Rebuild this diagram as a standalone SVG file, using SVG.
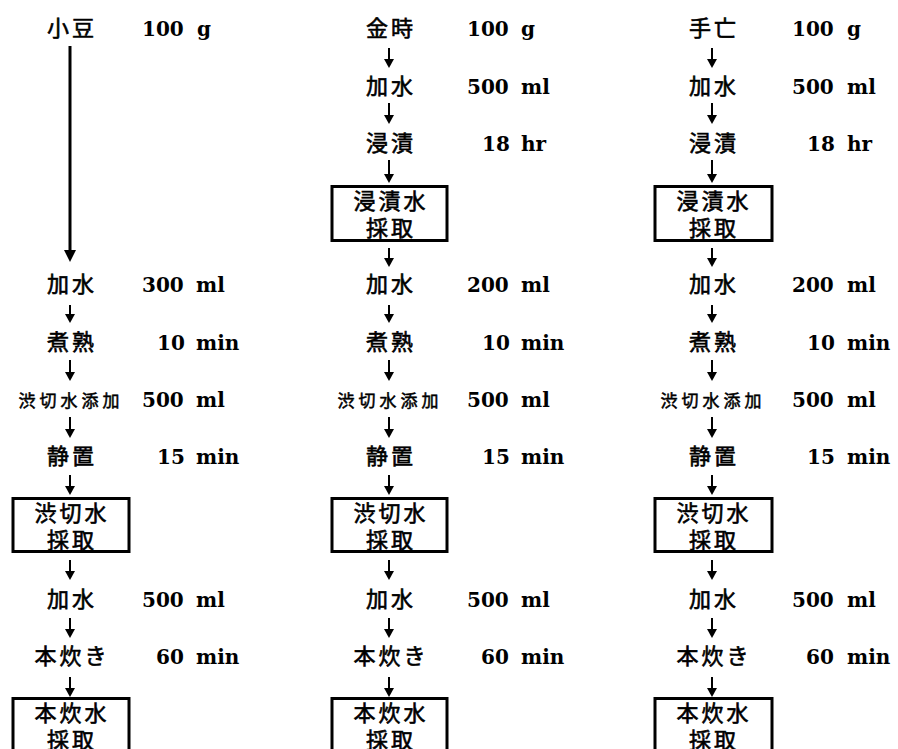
<svg xmlns="http://www.w3.org/2000/svg" width="898" height="749" viewBox="0 0 898 749">
<style>
.jp{font-family:"Noto Sans CJK JP","Noto Sans CJK SC",sans-serif;font-size:22px;font-weight:normal;fill:#000;stroke:#000;stroke-width:0.6px;text-anchor:middle;letter-spacing:3px}
.sm{font-size:17px;letter-spacing:4px;stroke-width:0.5px}
.v{font-family:"DejaVu Serif","Liberation Serif",serif;font-size:20px;font-weight:bold;fill:#000}
.box{fill:#fff;stroke:#000;stroke-width:3}
.c{stroke:#000;stroke-width:2;fill:none;marker-end:url(#ah)}
.long{stroke:#000;stroke-width:3;fill:none;marker-end:url(#ahl)}
</style>
<defs>
<marker id="ah" viewBox="0 0 9 10" refX="4" refY="5" markerWidth="9" markerHeight="10" markerUnits="userSpaceOnUse" orient="auto"><path d="M0,0 L9,5 L0,10 z" fill="#000"/></marker>
<marker id="ahl" viewBox="0 0 12 12" refX="5" refY="6" markerWidth="12" markerHeight="12" markerUnits="userSpaceOnUse" orient="auto"><path d="M0,0 L12,6 L0,12 z" fill="#000"/></marker>
</defs>
<rect width="898" height="749" fill="#fff"/>
<g id="connectors">
<path class="long" d="M70,46 V255"/>
<path class="c" d="M70,305 V318"/><path class="c" d="M70,360 V376"/><path class="c" d="M70,417 V433"/><path class="c" d="M70,475 V490"/><path class="c" d="M70,560 V575"/><path class="c" d="M70,618 V633"/><path class="c" d="M70,677 V692"/>
<path class="c" d="M389,48 V63"/><path class="c" d="M389,103 V119"/><path class="c" d="M389,160 V178"/><path class="c" d="M389,248 V262"/>
<path class="c" d="M389,305 V318"/><path class="c" d="M389,360 V376"/><path class="c" d="M389,417 V433"/><path class="c" d="M389,475 V490"/><path class="c" d="M389,560 V575"/><path class="c" d="M389,618 V633"/><path class="c" d="M389,677 V692"/>
<path class="c" d="M712,48 V63"/><path class="c" d="M712,103 V119"/><path class="c" d="M712,160 V178"/><path class="c" d="M712,248 V262"/>
<path class="c" d="M712,305 V318"/><path class="c" d="M712,360 V376"/><path class="c" d="M712,417 V433"/><path class="c" d="M712,475 V490"/><path class="c" d="M712,560 V575"/><path class="c" d="M712,618 V633"/><path class="c" d="M712,677 V692"/>
</g>
<!-- Column 1 -->
<g id="c1-azuki"><text class="jp" x="72" y="36">小豆</text><text class="v" x="142" y="36">100<tspan x="197">g</tspan></text></g>
<g id="c1-kasui1"><text class="jp" x="72" y="292">加水</text><text class="v" x="142" y="292">300<tspan x="196">ml</tspan></text></g>
<g id="c1-shajuku"><text class="jp" x="72" y="350">煮熟</text><text class="v" x="157" y="350">10<tspan x="196">min</tspan></text></g>
<g id="c1-shibu"><text class="jp sm" x="71" y="407">渋切水添加</text><text class="v" x="142" y="407">500<tspan x="196">ml</tspan></text></g>
<g id="c1-seichi"><text class="jp" x="72" y="464">静置</text><text class="v" x="157" y="464">15<tspan x="196">min</tspan></text></g>
<g id="c1-box1"><rect class="box" x="13" y="498.5" width="116" height="53"/><text class="jp" x="72" y="521">渋切水</text><text class="jp" x="72" y="548">採取</text></g>
<g id="c1-kasui2"><text class="jp" x="72" y="607">加水</text><text class="v" x="142" y="607">500<tspan x="196">ml</tspan></text></g>
<g id="c1-hondaki"><text class="jp" x="72" y="664">本炊き</text><text class="v" x="156" y="664">60<tspan x="196">min</tspan></text></g>
<g id="c1-box2"><rect class="box" x="13" y="698.5" width="116" height="60"/><text class="jp" x="72" y="721">本炊水</text><text class="jp" x="72" y="748">採取</text></g>
<!-- Column 2 -->
<g id="c2-kintoki"><text class="jp" x="391" y="36">金時</text><text class="v" x="467" y="36">100<tspan x="521">g</tspan></text></g>
<g id="c2-kasui0"><text class="jp" x="391" y="94">加水</text><text class="v" x="467" y="94">500<tspan x="521">ml</tspan></text></g>
<g id="c2-shinseki"><text class="jp" x="391" y="151">浸漬</text><text class="v" x="482" y="151">18<tspan x="521">hr</tspan></text></g>
<g id="c2-box0"><rect class="box" x="332" y="186.5" width="115" height="54"/><text class="jp" x="391" y="209">浸漬水</text><text class="jp" x="391" y="236">採取</text></g>
<g id="c2-kasui1"><text class="jp" x="391" y="292">加水</text><text class="v" x="467" y="292">200<tspan x="521">ml</tspan></text></g>
<g id="c2-shajuku"><text class="jp" x="391" y="350">煮熟</text><text class="v" x="482" y="350">10<tspan x="521">min</tspan></text></g>
<g id="c2-shibu"><text class="jp sm" x="390" y="407">渋切水添加</text><text class="v" x="467" y="407">500<tspan x="521">ml</tspan></text></g>
<g id="c2-seichi"><text class="jp" x="391" y="464">静置</text><text class="v" x="482" y="464">15<tspan x="521">min</tspan></text></g>
<g id="c2-box1"><rect class="box" x="332" y="498.5" width="115" height="53"/><text class="jp" x="391" y="521">渋切水</text><text class="jp" x="391" y="548">採取</text></g>
<g id="c2-kasui2"><text class="jp" x="391" y="607">加水</text><text class="v" x="467" y="607">500<tspan x="521">ml</tspan></text></g>
<g id="c2-hondaki"><text class="jp" x="391" y="664">本炊き</text><text class="v" x="481" y="664">60<tspan x="521">min</tspan></text></g>
<g id="c2-box2"><rect class="box" x="332" y="698.5" width="115" height="60"/><text class="jp" x="391" y="721">本炊水</text><text class="jp" x="391" y="748">採取</text></g>
<!-- Column 3 -->
<g id="c3-tebou"><text class="jp" x="714" y="36">手亡</text><text class="v" x="792" y="36">100<tspan x="847">g</tspan></text></g>
<g id="c3-kasui0"><text class="jp" x="714" y="94">加水</text><text class="v" x="792" y="94">500<tspan x="847">ml</tspan></text></g>
<g id="c3-shinseki"><text class="jp" x="714" y="151">浸漬</text><text class="v" x="807" y="151">18<tspan x="847">hr</tspan></text></g>
<g id="c3-box0"><rect class="box" x="655" y="186.5" width="117" height="54"/><text class="jp" x="714" y="209">浸漬水</text><text class="jp" x="714" y="236">採取</text></g>
<g id="c3-kasui1"><text class="jp" x="714" y="292">加水</text><text class="v" x="792" y="292">200<tspan x="847">ml</tspan></text></g>
<g id="c3-shajuku"><text class="jp" x="714" y="350">煮熟</text><text class="v" x="807" y="350">10<tspan x="847">min</tspan></text></g>
<g id="c3-shibu"><text class="jp sm" x="713" y="407">渋切水添加</text><text class="v" x="792" y="407">500<tspan x="847">ml</tspan></text></g>
<g id="c3-seichi"><text class="jp" x="714" y="464">静置</text><text class="v" x="807" y="464">15<tspan x="847">min</tspan></text></g>
<g id="c3-box1"><rect class="box" x="655" y="498.5" width="117" height="53"/><text class="jp" x="714" y="521">渋切水</text><text class="jp" x="714" y="548">採取</text></g>
<g id="c3-kasui2"><text class="jp" x="714" y="607">加水</text><text class="v" x="792" y="607">500<tspan x="847">ml</tspan></text></g>
<g id="c3-hondaki"><text class="jp" x="714" y="664">本炊き</text><text class="v" x="806" y="664">60<tspan x="847">min</tspan></text></g>
<g id="c3-box2"><rect class="box" x="655" y="698.5" width="117" height="60"/><text class="jp" x="714" y="721">本炊水</text><text class="jp" x="714" y="748">採取</text></g>
</svg>
